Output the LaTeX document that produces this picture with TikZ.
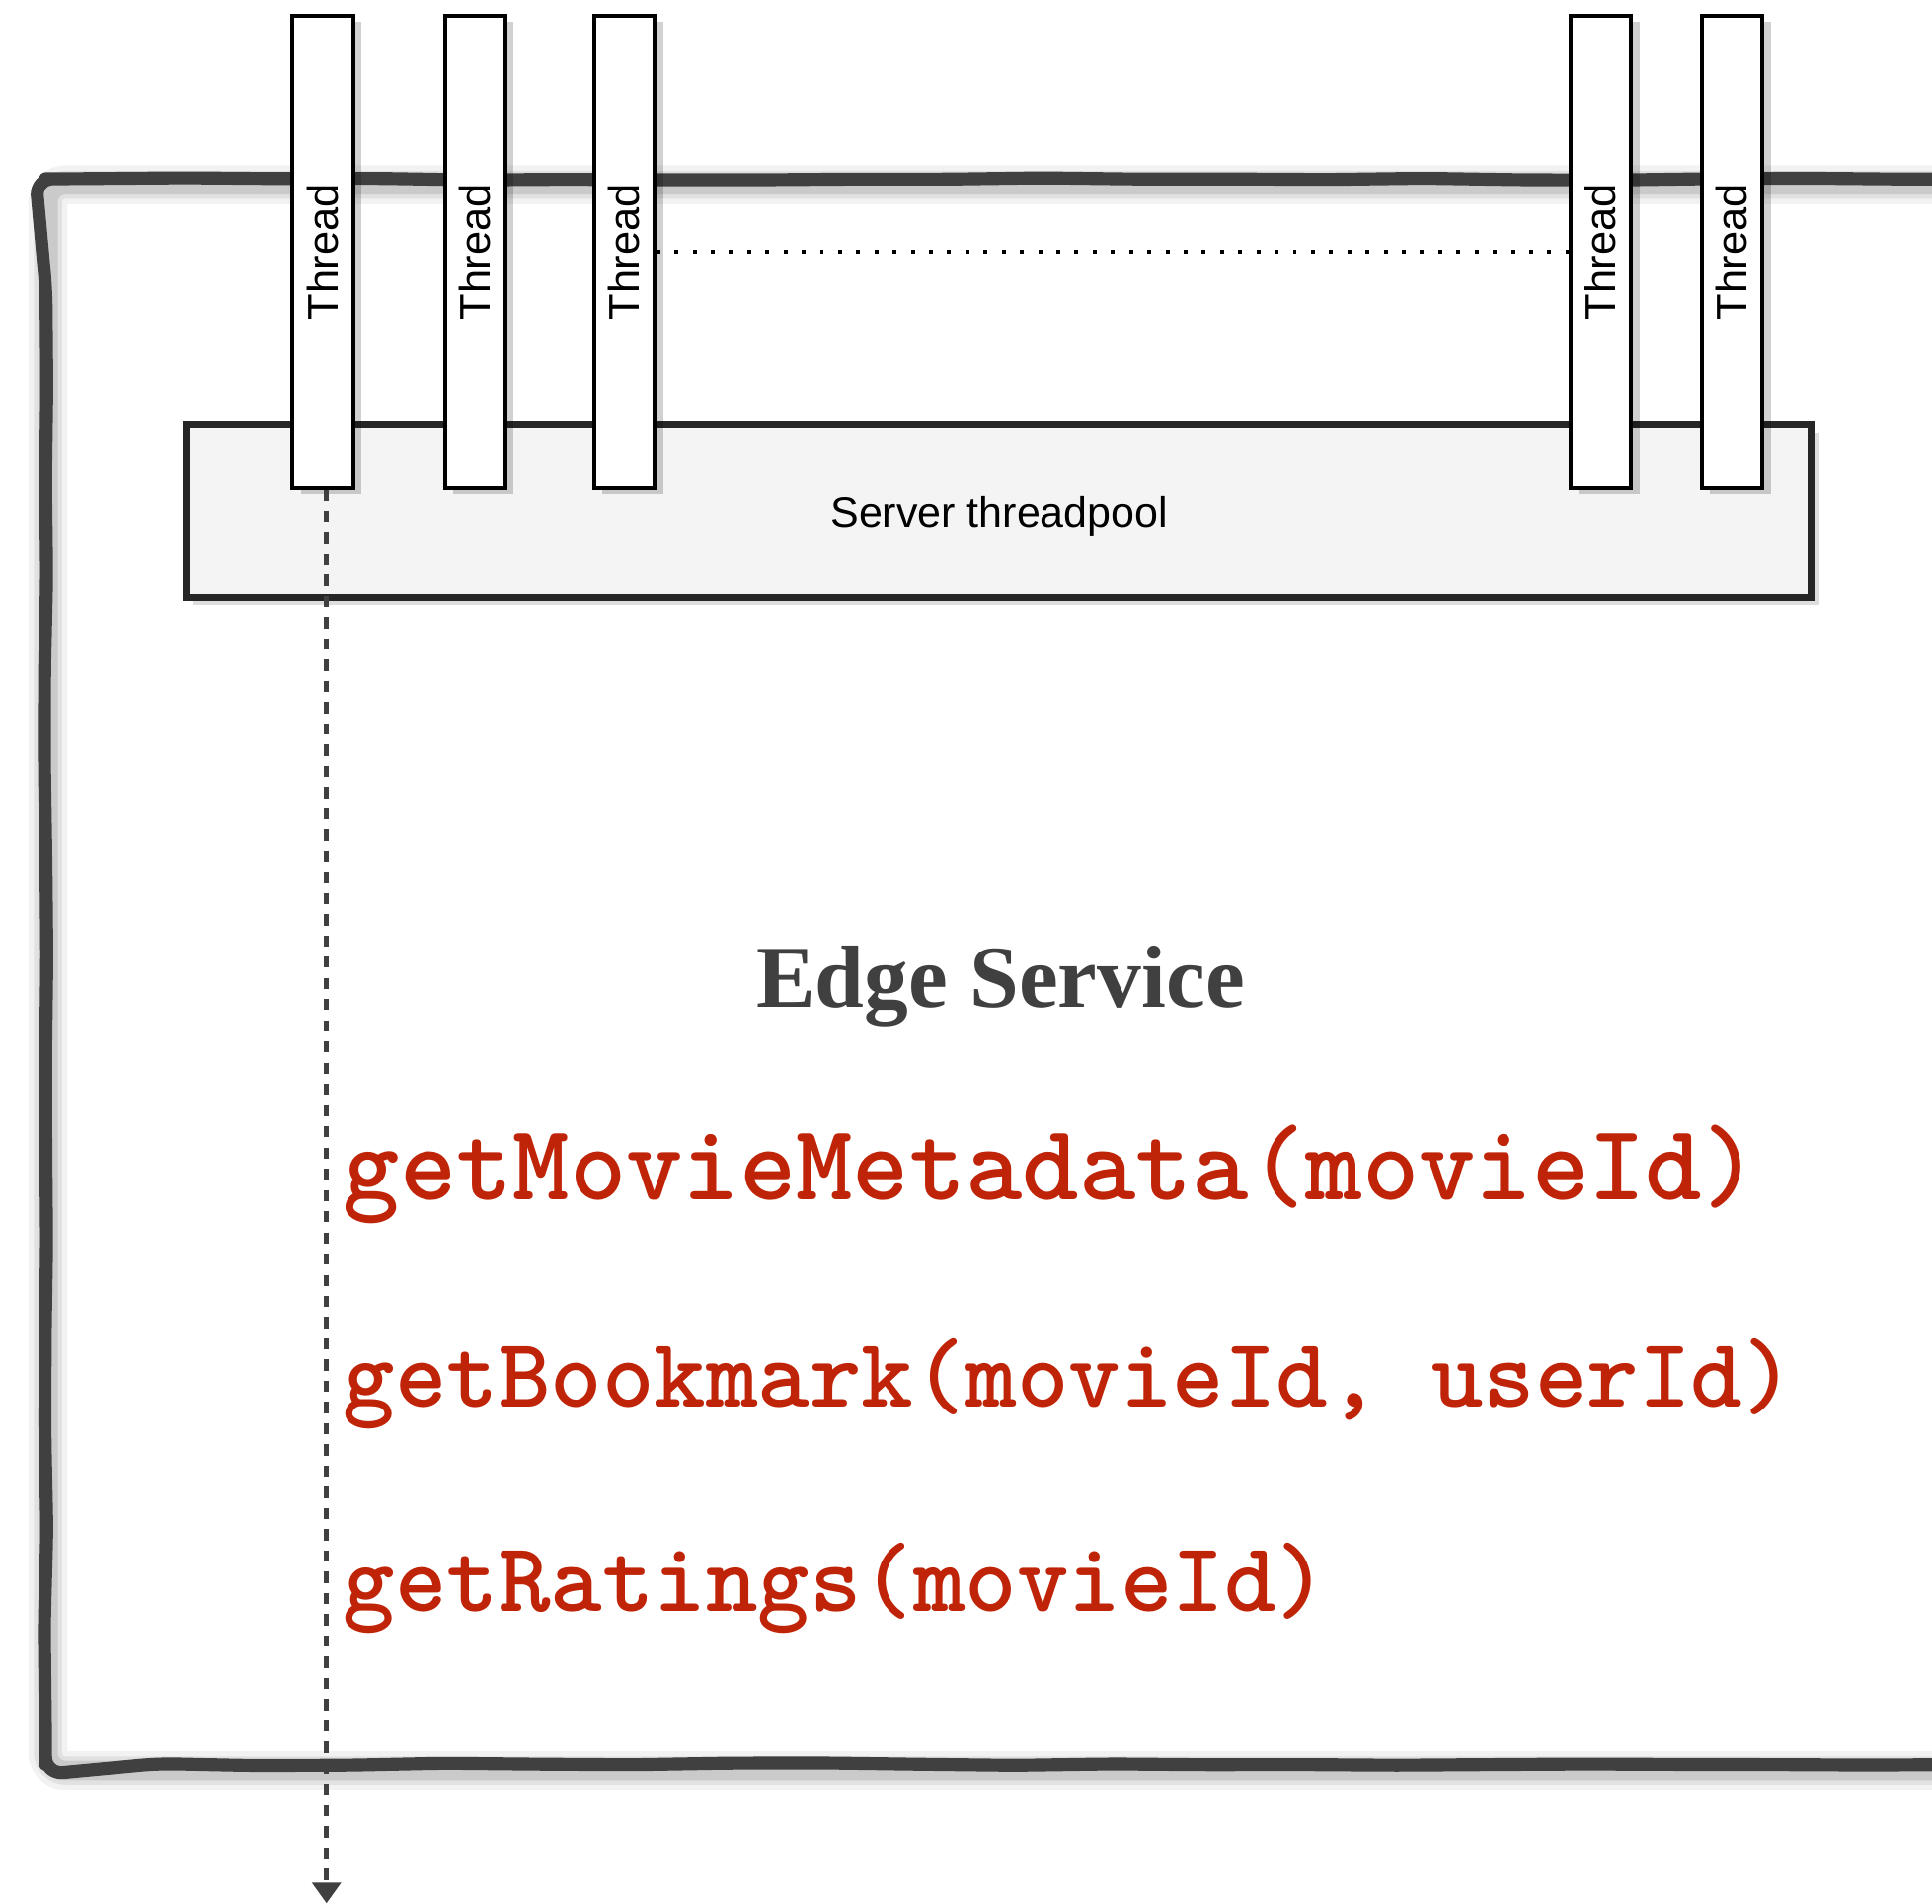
\documentclass[tikz,border=0pt]{standalone}
\usepackage{fontspec}
\newfontfamily\labelfont{Liberation Sans}
\newfontfamily\titlefont{Liberation Serif}
\usetikzlibrary{arrows.meta,shadows,decorations.pathmorphing,calc}

\definecolor{callred}{RGB}{192,36,8}
\definecolor{framegray}{RGB}{64,64,64}
\definecolor{poolfill}{RGB}{244,244,244}

\tikzset{
  thread/.style={draw=black, line width=0.9pt, fill=white, inner sep=0pt,
    minimum width=4.9mm, minimum height=38.3mm,
    font=\labelfont\fontsize{9.9}{12}\selectfont,
    drop shadow={shadow xshift=2pt, shadow yshift=-1.4pt, fill=black, opacity=.18}},
  pool/.style={draw=black!85, line width=1.6pt, fill=poolfill, inner sep=0pt,
    minimum width=131.9mm, minimum height=14mm,
    drop shadow={shadow xshift=1.8pt, shadow yshift=-1.8pt, fill=black, opacity=.13}},
  frame/.style={framegray, line width=3pt, line join=round, line cap=round,
    decorate, decoration={random steps, segment length=22pt, amplitude=0.3pt},
    rounded corners=4pt},
  call/.style={anchor=base west, inner sep=0pt, text=callred},
}

\begin{document}
\begin{tikzpicture}[x=0.1mm, y=-0.1mm]
\useasboundingbox (0,0) rectangle (1568,1545);

\begin{scope}
\clip (0,0) rectangle (1568,1545);
% soft shadow of the service box
\foreach \w/\o in {9pt/.05,6.5pt/.07,4.5pt/.1}
  \draw[line width=\w, black, opacity=\o, rounded corners=4pt, line join=round]
    (1620,150) -- (39,150) -- (39,1437) -- (1620,1437);
\pgfmathsetseed{7}
\draw[frame] (1620,145) -- (37,145) -- (37,1432) -- (1620,1432);
\end{scope}

\node[pool] (pool) at (810.5,415) {};
\node[font=\labelfont\fontsize{9.8}{12}\selectfont, inner sep=0pt] (poollabel) at (811,419) {Server threadpool};

\node[thread] (t1) at (262,204.5) {\rotatebox{90}{Thread}};
\node[thread] (t2) at (385.5,204.5) {\rotatebox{90}{Thread}};
\node[thread] (t3) at (506.5,204.5) {\rotatebox{90}{Thread}};
\node[thread] (t4) at (1299,204.5) {\rotatebox{90}{Thread}};
\node[thread] (t5) at (1405.5,204.5) {\rotatebox{90}{Thread}};

\draw[line width=0.8pt, dash pattern=on 0.9pt off 3.3pt] (t3.east) -- (t4.west);

\coordinate (flowend) at (265,1545);
\draw[framegray, line width=1.2pt, dash pattern=on 2.6pt off 2.3pt,
  -{Triangle[width=6.5pt,length=4.8pt]}] (t1.south -| flowend) -- (flowend);

\node[anchor=base, inner sep=0pt, text=framegray,
  font=\titlefont\bfseries\fontsize{20.4}{24}\selectfont] (service) at (812,818) {Edge Service};

\node[call, font=\ttfamily\bfseries\fontsize{24.9}{28}\selectfont] (meta) at (278,974) {getMovieMetadata(movieId)};
\node[call, font=\ttfamily\bfseries\fontsize{22.8}{26}\selectfont] (bookmark) at (278,1142) {getBookmark(movieId, userId)};
\node[call, font=\ttfamily\bfseries\fontsize{22.8}{26}\selectfont] (ratings) at (278,1308) {getRatings(movieId)};
\end{tikzpicture}
\end{document}
